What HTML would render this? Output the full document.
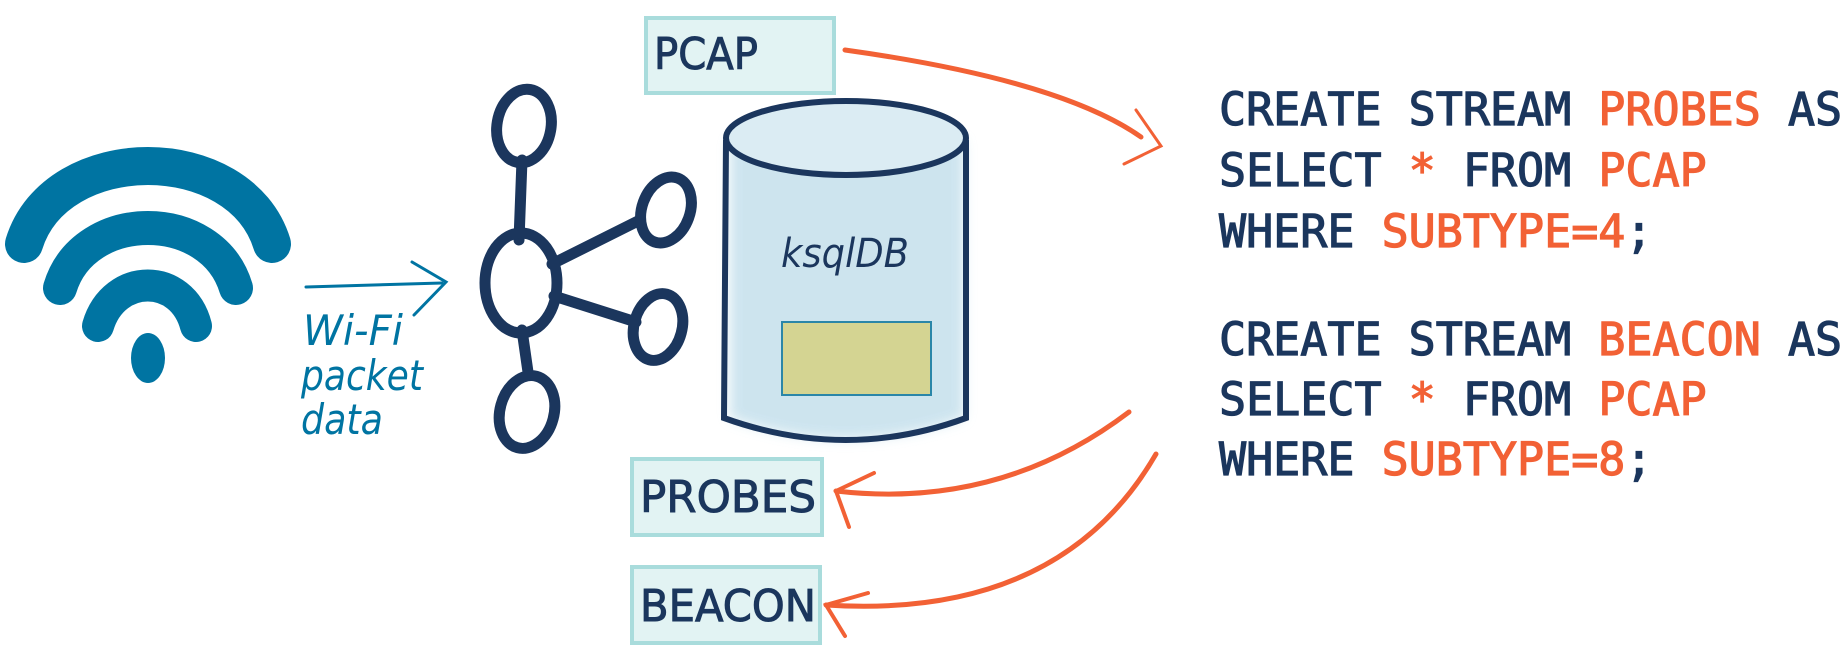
<!DOCTYPE html>
<html><head><meta charset="utf-8"><style>
html,body{margin:0;padding:0;background:#fff;}
svg{display:block;}
</style></head><body>
<svg width="1848" height="658" viewBox="0 0 1848 658" xmlns="http://www.w3.org/2000/svg">
<defs>
<filter id="blur"><feGaussianBlur stdDeviation="6"/></filter>
</defs>
<!-- Wifi -->
<g fill="none" stroke="#0074a2" stroke-linecap="round">
<path d="M24 244 C56 140 240 140 272 244" stroke-width="38"/>
<path d="M60 288 C84 208 212 208 236 288" stroke-width="34"/>
<path d="M98 326 C114 272 182 272 196 326" stroke-width="32"/>
</g>
<ellipse cx="148" cy="358" rx="17" ry="25" fill="#0074a2"/>
<!-- small arrow -->
<g fill="none" stroke="#0074a2" stroke-width="3" stroke-linecap="round">
<path d="M306 287 Q380 285 442 283"/>
<path d="M412 262 L446 282 L414 315"/>
</g>
<g font-family="'DejaVu Sans','Liberation Sans',sans-serif" font-style="italic" font-size="42" fill="#0074a2">
<text x="303" y="345" textLength="100" lengthAdjust="spacingAndGlyphs">Wi-Fi</text>
<text x="301" y="390" textLength="122" lengthAdjust="spacingAndGlyphs">packet</text>
<text x="301" y="434" textLength="82" lengthAdjust="spacingAndGlyphs">data</text>
</g>
<!-- Kafka logo -->
<g fill="none" stroke="#1b365d" stroke-width="11" stroke-linecap="round">
<line x1="522" y1="160" x2="519" y2="240"/>
<line x1="522" y1="330" x2="528" y2="372"/>
<line x1="552" y1="264" x2="640" y2="220"/>
<line x1="554" y1="296" x2="636" y2="322"/>
<ellipse cx="521" cy="283" rx="36" ry="50"/>
<ellipse cx="524" cy="126" rx="27" ry="37" transform="rotate(10 524 126)"/>
<ellipse cx="666" cy="210" rx="24" ry="34" transform="rotate(20 666 210)"/>
<ellipse cx="658" cy="327" rx="24" ry="34" transform="rotate(15 658 327)"/>
<ellipse cx="527" cy="412" rx="27" ry="37" transform="rotate(15 527 412)"/>
</g>
<!-- boxes -->
<g fill="#e2f3f3" stroke="#a9dcdc" stroke-width="4">
<rect x="646" y="18" width="188" height="75"/>
<rect x="632" y="459" width="190" height="76"/>
<rect x="632" y="567" width="188" height="76"/>
</g>
<g font-family="'DejaVu Sans','Liberation Sans',sans-serif" font-size="44" fill="#1b365d" stroke="#1b365d" stroke-width="1">
<text x="654" y="69" textLength="104" lengthAdjust="spacingAndGlyphs">PCAP</text>
<text x="640" y="512" textLength="176" lengthAdjust="spacingAndGlyphs">PROBES</text>
<text x="640" y="621" textLength="176" lengthAdjust="spacingAndGlyphs">BEACON</text>
</g>
<!-- cylinder -->
<g>
<path d="M730 140 L730 418 Q846 460 964 418 L964 140 Z" fill="#c5e0ec" filter="url(#blur)" opacity="0.85"/>
<rect x="782" y="322" width="149" height="73" fill="#d6cf7a" opacity="0.8"/>
<rect x="782" y="322" width="149" height="73" fill="none" stroke="#2a86a8" stroke-width="2"/>
<ellipse cx="846" cy="138" rx="120" ry="37" fill="#dbecf3" stroke="#1b365d" stroke-width="6"/>
<path d="M726 140 L724 418 Q846 462 966 418 L966 140" fill="none" stroke="#1b365d" stroke-width="6"/>
<text x="781" y="267" font-family="'DejaVu Sans','Liberation Sans',sans-serif" font-style="italic" font-size="40" fill="#1b365d" textLength="128" lengthAdjust="spacingAndGlyphs">ksqlDB</text>
</g>
<!-- orange arrows -->
<g fill="none" stroke="#f26135" stroke-width="5" stroke-linecap="round">
<path d="M845 50 Q1060 80 1141 137"/>
<path d="M1136 110 L1161 146 L1124 164" stroke-width="3"/>
<path d="M1129 412 Q1000 510 836 491"/>
<path d="M874 473 L836 491 L849 527" stroke-width="4"/>
<path d="M1156 454 Q1060 620 826 605"/>
<path d="M868 593 L826 605 L845 636" stroke-width="4"/>
</g>
<!-- code -->
<g font-family="'DejaVu Sans Mono','Liberation Mono',monospace" font-size="45" fill="#1b365d" stroke-width="1.2" xml:space="preserve">
<text x="1219" y="125" stroke="#1b365d">CREATE STREAM <tspan fill="#f26135" stroke="#f26135">PROBES</tspan> AS</text>
<text x="1219" y="186" stroke="#1b365d">SELECT <tspan fill="#f26135" stroke="#f26135">*</tspan> FROM <tspan fill="#f26135" stroke="#f26135">PCAP</tspan></text>
<text x="1219" y="247" stroke="#1b365d">WHERE <tspan fill="#f26135" stroke="#f26135">SUBTYPE=4</tspan>;</text>
<text x="1219" y="355" stroke="#1b365d">CREATE STREAM <tspan fill="#f26135" stroke="#f26135">BEACON</tspan> AS</text>
<text x="1219" y="415" stroke="#1b365d">SELECT <tspan fill="#f26135" stroke="#f26135">*</tspan> FROM <tspan fill="#f26135" stroke="#f26135">PCAP</tspan></text>
<text x="1219" y="475" stroke="#1b365d">WHERE <tspan fill="#f26135" stroke="#f26135">SUBTYPE=8</tspan>;</text>
</g>
</svg>
</body></html>
